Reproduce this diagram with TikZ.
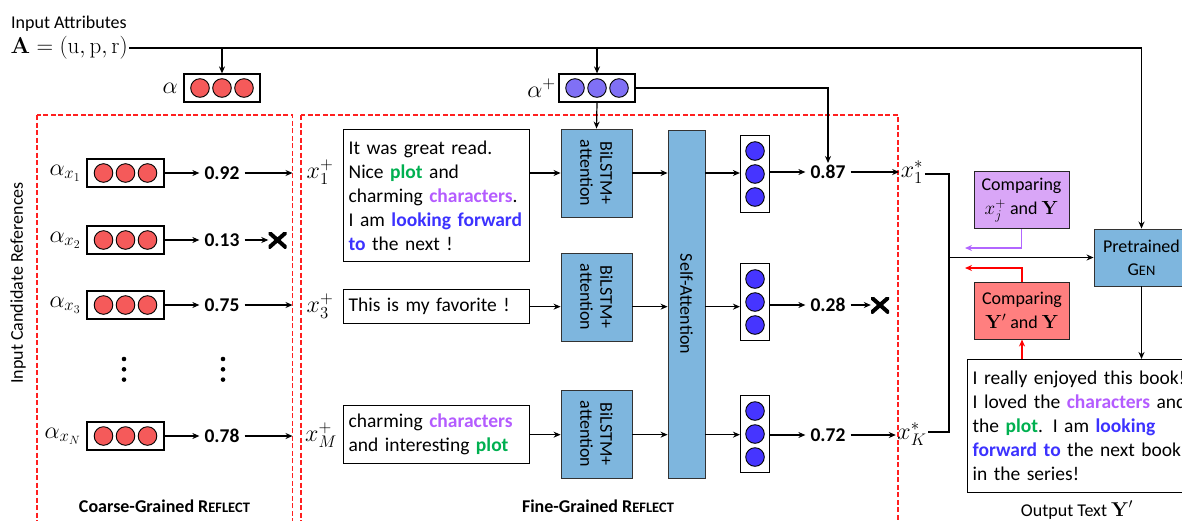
\RequirePackage{fix-cm}
\documentclass[tikz,border=0pt]{standalone}
\usepackage[no-math]{fontspec}
\setmainfont{Carlito}
\usetikzlibrary{arrows.meta}
\definecolor{cred}{HTML}{F55A5A}
\definecolor{cpur}{HTML}{8070F5}
\definecolor{cblu}{HTML}{4635FF}
\definecolor{boxblue}{HTML}{7EB6DE}
\definecolor{tgreen}{HTML}{00B050}
\definecolor{tpurple}{HTML}{B45CFF}
\definecolor{tblue}{HTML}{3C32FF}
\definecolor{cmpx}{HTML}{D9A6F7}
\definecolor{cmpy}{HTML}{FF7F7F}
\definecolor{dred}{HTML}{FF2020}
\definecolor{lpurple}{HTML}{B266FF}
\newcommand\fsz[2]{\fontsize{#1}{#2}\selectfont}
\newcommand\refl{R{\fontsize{14.5}{14}\selectfont EFLECT}}
\newcommand\genn{G{\fontsize{14.5}{14}\selectfont EN}}
\newcommand\kw[2]{\textcolor{#1}{\textbf{#2}}}
\begin{document}
\begin{tikzpicture}[x=1pt,y=-1pt,
  ln/.style={line width=1.2pt, draw=black},
  arr/.style={ln, -{Stealth[length=7pt,width=6pt]}},
  arrp/.style={arr, draw=lpurple},
  arrr/.style={arr, draw=red},
  dbox/.style={draw=dred, line width=1.2pt, dash pattern=on 5pt off 2.5pt},
  cb/.style={draw, line width=1.2pt, fill=white, inner sep=0pt},
  cf/.style={fill=#1, draw=black, line width=0.9pt},
  bx/.style={draw=black!80, fill=boxblue, line width=0.9pt, inner sep=0pt},
  tb/.style={draw, line width=1.3pt, align=left, font=\fsz{19.5}{24}, inner xsep=5pt, inner ysep=2pt},
  lab/.style={font=\fsz{18}{21}, inner sep=2pt},
  num/.style={font=\bfseries\fsz{19.5}{22}, inner xsep=5pt, inner ysep=2pt},
  mth/.style={font=\fsz{24}{26}, inner sep=1.5pt},
  rtext/.style={rotate=-90, align=center, font=\fsz{18}{20}, inner sep=0pt},
  cmpbox/.style={draw=black!85, line width=1pt, minimum width=95pt, minimum height=57pt, align=center, font=\fsz{18}{23}, inner sep=0pt},
  crossx/.style={minimum width=18pt, minimum height=16pt, inner sep=0pt,
    path picture={\draw[line width=4pt] (path picture bounding box.south west) -- (path picture bounding box.north east) (path picture bounding box.north west) -- (path picture bounding box.south east);}}
]
\useasboundingbox (0,0) rectangle (1182,520);
\clip (0,0) rectangle (1182,520);

% dashed regions
\draw[dbox] (37,115) rectangle (292.5,540);
\draw[dbox] (301,115) rectangle (898,540);
\coordinate (cgr) at (292.5,115);

% top
\node[lab, anchor=west] (ia) at (9,24) {Input Attributes};
\node[mth, anchor=west, font=\fsz{23}{26}] (A) at (9,48) {$\mathbf{A}=(\mathrm{u},\mathrm{p},\mathrm{r})$};
\node[bx, minimum width=95pt, minimum height=57pt, align=center, font=\fsz{18}{23}] (gen) at (1141.5,257.5) {Pretrained\\\genn};
\coordinate (tr) at (1141.5,48);
\draw[arr] (A.east) -- (tr) -- (gen.north);

% alpha box
\node[cb, minimum width=76pt, minimum height=28pt] (al) at (222,88) {};
\foreach \dx in {-22,0,22} \draw[cf=cred] ([xshift=\dx pt]al.center) circle (9.3pt);
\node[mth, anchor=east] (all) at ([xshift=-4pt]al.west) {$\alpha$};
\draw[arr] (al.north |- A.east) -- (al.north);

% alpha+ box
\node[cb, minimum width=76pt, minimum height=28pt] (ap) at (597,88) {};
\foreach \dx in {-22,0,22} \draw[cf=cpur] ([xshift=\dx pt]ap.center) circle (9.3pt);
\node[mth, anchor=east] (apl) at ([xshift=-1pt]ap.west) {$\alpha^+$};
\draw[arr] (ap.north |- A.east) -- (ap.north);

% coarse rows
\newcommand\crow[4]{%
  \node[cb, minimum width=77pt, minimum height=28pt] (r#1) at (125.5,#2) {};
  \foreach \dx in {-22,0,22} \draw[cf=cred] ([xshift=\dx pt]r#1.center) circle (9.3pt);
  \node[mth, anchor=east] (rl#1) at ([xshift=-4pt]r#1.west) {$#3$};
  \node[num] (n#1) at (222,#2) {#4};
  \draw[arr] (r#1.east) -- (n#1.west);
}
\crow{1}{173}{\alpha_{x_1}}{0.92}
\crow{2}{240}{\alpha_{x_2}}{0.13}
\crow{3}{305}{\alpha_{x_3}}{0.75}
\crow{4}{436}{\alpha_{x_N}}{0.78}
\draw[arr] (n1.east) -- (n1.east -| cgr);
\draw[arr] (n3.east) -- (n3.east -| cgr);
\draw[arr] (n4.east) -- (n4.east -| cgr);
\node[crossx] (xx2) at (277.5,240) {};
\draw[arr] (n2.east) -- (xx2.west);
\foreach \yy in {359,369.3,379.6} {\fill (124,\yy) circle (2.3pt); \fill (223,\yy) circle (2.3pt);}

\node[lab, rotate=90] (icr) at (18,283) {Input Candidate References};
\node[lab, font=\bfseries\fsz{18}{20}] (cgl) at (164.5,506) {Coarse-Grained \refl};

% fine-grained
\node[mth] (p1) at (320,172) {$x_1^+$};
\node[mth] (p3) at (320,306) {$x_3^+$};
\node[mth] (pM) at (321,435) {$x_M^+$};

\node[tb, anchor=north west, text width=176pt, minimum height=132pt] (t1) at (343,129)
  {It was great read.\\Nice \kw{tgreen}{plot} and\\charming \kw{tpurple}{characters}.\\I am \kw{tblue}{looking forward}\\\kw{tblue}{to} the next !};
\node[tb, anchor=north west, text width=176pt, minimum height=34pt] (t3) at (343,289)
  {This is my favorite !};
\node[tb, anchor=north west, text width=176pt, minimum height=58pt] (tM) at (343,405)
  {charming \kw{tpurple}{characters}\\and interesting \kw{tgreen}{plot}};

\node[bx, minimum width=71pt, minimum height=88pt] (bi1) at (596.5,173) {};
\node[rtext] (bi1t) at (bi1.center) {BiLSTM+\\attention};
\node[bx, minimum width=71pt, minimum height=88pt] (bi2) at (596.5,297) {};
\node[rtext] (bi2t) at (bi2.center) {BiLSTM+\\attention};
\node[bx, minimum width=71pt, minimum height=88pt] (bi3) at (596.5,434) {};
\node[rtext] (bi3t) at (bi3.center) {BiLSTM+\\attention};

\node[bx, minimum width=37pt, minimum height=348pt] (sa) at (686.5,304) {};
\node[rtext] (sat) at (sa.center) {Self-Attention};

\draw[arr] (ap.south) -- (bi1.north);

\draw[arr] (bi1.west -| t1.east) -- (bi1.west);
\draw[arr] (t3.east) -- (t3.east -| bi2.west);
\draw[arr] (tM.east) -- (tM.east -| bi3.west);
\draw[arr] (bi1.east) -- (bi1.east -| sa.west);
\draw[arr] (bi2.east |- t3.east) -- (sa.west |- t3.east);
\draw[arr] (bi3.east |- tM.east) -- (sa.west |- tM.east);

% circle columns
\node[cb, minimum width=29pt, minimum height=77pt] (c1) at (755,174) {};
\node[cb, minimum width=29pt, minimum height=77pt] (c2) at (755,302) {};
\node[cb, minimum width=29pt, minimum height=77pt] (c3) at (755,434) {};
\foreach \cc in {c1,c2,c3} \foreach \dy in {-23,0,23} \draw[cf=cblu] ([yshift=\dy pt]\cc.center) circle (9.3pt);

\draw[arr] (sa.east |- bi1.east) -- (c1.west |- bi1.east);
\draw[arr] (sa.east |- t3.east) -- (c2.west |- t3.east);
\draw[arr] (sa.east |- tM.east) -- (c3.west |- tM.east);

\node[num] (n87) at (828,172) {0.87};
\node[num] (n28) at (828,305) {0.28};
\node[num] (n72) at (828,435) {0.72};
\draw[arr] (c1.east |- n87.west) -- (n87.west);
\draw[arr] (c2.east |- n28.west) -- (n28.west);
\draw[arr] (c3.east |- n72.west) -- (n72.west);
\draw[arr] (ap.east) -| (n87.north);

\node[mth] (xs1) at (912,172) {$x_1^*$};
\node[mth] (xsK) at (912,434) {$x_K^*$};
\node[crossx] (xx28) at (880,305) {};
\draw[arr] (n87.east) -- (n87.east -| xs1.west);
\draw[arr] (n28.east) -- (xx28.west);
\draw[arr] (n72.east) -- (n72.east -| xsK.west);

\node[lab, font=\bfseries\fsz{18}{20}] (fgl) at (598,506) {Fine-Grained \refl};

% right part
\coordinate (jn) at (949,257.5);
\draw[ln] ([yshift=-2pt]xs1.east) -| (jn);
\draw[ln] ([yshift=2pt]xsK.east) -| (jn);
\draw[arr] (jn) -- (gen.west);

\node[cmpbox, fill=cmpx] (cx) at (1021.5,200) {Comparing\\[1pt]{\fsz{19}{21}$x_j^+$} and {\fsz{19}{21}$\mathbf{Y}$}};
\node[cmpbox, fill=cmpy] (cy) at (1022,310.5) {Comparing\\[1pt]{\fsz{19}{21}$\mathbf{Y}'$} and {\fsz{19}{21}$\mathbf{Y}$}};
\coordinate (pt) at (965,248);
\coordinate (rt) at (965,268);
\draw[arrp] (cx.south) |- (pt);
\draw[arrr] (cy.north) |- (rt);

\node[tb, anchor=north west, text width=215pt, minimum height=133pt] (out) at (967,359)
  {I really enjoyed this book!\\I loved the \kw{tpurple}{characters} and\\the \kw{tgreen}{plot}. I am \kw{tblue}{looking}\\\kw{tblue}{forward to} the next book\\in the series!};
\draw[arrr] (cy.south |- out.north) -- (cy.south);
\draw[arr] (gen.south) -- (gen.south |- out.north);
\node[lab] (outl) at (1077,510) {Output Text {\fsz{20}{22}$\mathbf{Y}'$}};
\end{tikzpicture}
\end{document}
